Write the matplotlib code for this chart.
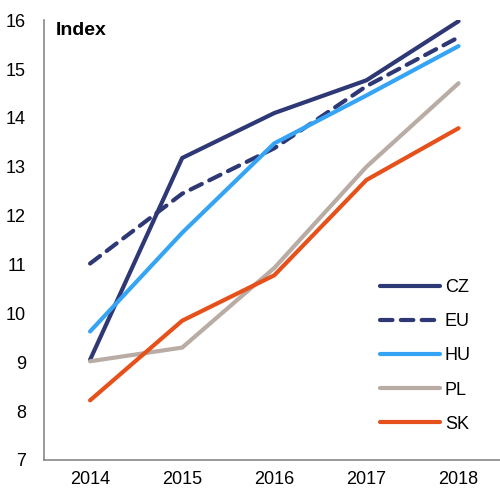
import matplotlib
matplotlib.use('Agg')
import matplotlib.pyplot as plt

plt.rcParams['font.family'] = ['Liberation Sans', 'DejaVu Sans']

years = ['2014', '2015', '2016', '2017', '2018']
cz = [9.05, 13.18, 14.1, 14.77, 15.98]
eu = [11.02, 12.45, 13.38, 14.65, 15.65]
hu = [9.63, 11.65, 13.48, 14.46, 15.47]
pl = [9.02, 9.3, 10.93, 13.0, 14.71]
sk = [8.22, 9.85, 10.78, 12.73, 13.79]

x = range(len(years))

fig = plt.figure(figsize=(5, 4.93), dpi=100)
ax = fig.add_axes([0.088, 0.067, 0.912, 0.892])

lw = 3.0
ax.plot(x, cz, color='#2d3875', lw=lw, label='CZ', solid_capstyle='round')
ax.plot(x, eu, color='#2d3875', lw=lw, ls=(0, (3, 2)), label='EU', dash_capstyle='round')
ax.plot(x, hu, color='#35a4f4', lw=lw, label='HU', solid_capstyle='round')
ax.plot(x, pl, color='#b8aca4', lw=lw, label='PL', solid_capstyle='round')
ax.plot(x, sk, color='#e6501a', lw=lw, label='SK', solid_capstyle='round')

ax.set_xlim(-0.5, 4.45)
ax.set_ylim(7, 16)
ax.set_xticks(list(x))
ax.set_xticklabels(years)
ax.set_yticks(range(7, 17))
ax.tick_params(axis='both', length=0, labelsize=13, pad=8)
ax.tick_params(axis='y', pad=13)

for s in ['top', 'right']:
    ax.spines[s].set_visible(False)
for s in ['left', 'bottom']:
    ax.spines[s].set_color('#888888')
    ax.spines[s].set_linewidth(1.2)

ax.text(0.025, 0.995, 'Index', transform=ax.transAxes, fontsize=14,
        fontweight='bold', va='top', ha='left')

ax.legend(loc='lower right', bbox_to_anchor=(0.972, 0.025), frameon=False,
          fontsize=13, handlelength=3.3, handletextpad=0.3, labelspacing=0.95)

plt.savefig('out.png', dpi=100)
